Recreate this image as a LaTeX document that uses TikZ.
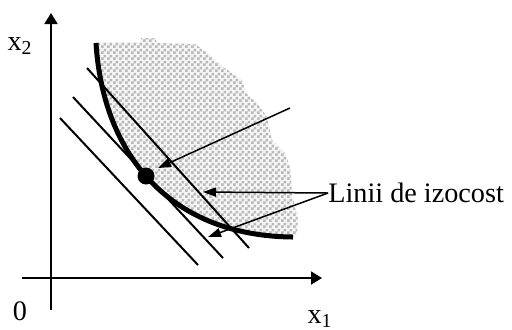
\documentclass[tikz,border=0pt]{standalone}
\usepackage{fontspec}
\setmainfont{Liberation Serif}
\usetikzlibrary{arrows.meta,patterns}

\pgfdeclarepatternformonly{finechecker}{\pgfpointorigin}{\pgfqpoint{2.8pt}{2.8pt}}{\pgfqpoint{2.8pt}{2.8pt}}{%
  \pgfpathrectangle{\pgfpointorigin}{\pgfqpoint{1.4pt}{1.4pt}}%
  \pgfpathrectangle{\pgfqpoint{1.4pt}{1.4pt}}{\pgfqpoint{1.4pt}{1.4pt}}%
  \pgfusepath{fill}}

\tikzset{
  axis/.style={line width=0.9pt, -{Triangle[length=5.5pt,width=6.5pt]}},
  isocost/.style={line width=1pt},
  pointer/.style={line width=0.75pt, -{Triangle[length=6.5pt,width=4.5pt]}},
  lbl/.style={font=\fontsize{14.1}{16}\selectfont, inner sep=0pt}
}

\begin{document}
\begin{tikzpicture}[x=0.5pt, y=-0.5pt]
  \useasboundingbox (0,0) rectangle (512,329);

  % shaded area above the curve
  \fill[gray!8]
    (96,42) -- (140,42) -- (141,38) -- (155,38) -- (157,43) -- (195,44)
    -- (210,55) -- (223,67) -- (242,80) -- (246,93) -- (257,103)
    -- (267,117) -- (272,140) -- (285,153) -- (290,167) -- (292,193)
    -- (295,207) -- (298,220) -- (297,233) -- (293,237)
    .. controls (170,236) and (103,155) .. (96,43) -- cycle;
  \fill[pattern=finechecker, pattern color=gray!55]
    (96,42) -- (140,42) -- (141,38) -- (155,38) -- (157,43) -- (195,44)
    -- (210,55) -- (223,67) -- (242,80) -- (246,93) -- (257,103)
    -- (267,117) -- (272,140) -- (285,153) -- (290,167) -- (292,193)
    -- (295,207) -- (298,220) -- (297,233) -- (293,237)
    .. controls (170,236) and (103,155) .. (96,43) -- cycle;

  % axes
  \coordinate (xs) at (22,278);
  \coordinate (xe) at (322,278);
  \coordinate (ys) at (51,310);
  \coordinate (ye) at (51,13);
  \draw[axis] (xs) -- (xe);
  \draw[axis] (ys) -- (ye);

  \node[lbl] (lx2) at (20,46) {x\textsubscript{2}};
  \node[lbl] (lx1) at (320,319) {x\textsubscript{1}};
  \node[lbl] (lzero) at (20,311) {0};

  % isocost lines
  \draw[isocost] (60,118) -- (198,265);
  \draw[isocost] (73,97) -- (223,258);
  \draw[isocost] (87,68) -- (249,248);

  % curve
  \draw[line width=2.5pt] (96,43) .. controls (103,155) and (170,236) .. (293,237);

  % optimum
  \node[circle, fill=black, inner sep=0pt, minimum size=8.5pt] (opt) at (146,176) {};

  % pointers
  \coordinate (sA) at (290,108);
  \coordinate (tA) at (158,168);
  \coordinate (tB) at (203,192);
  \coordinate (tC) at (208,237);
  \node[lbl, anchor=west] (cost) at (328,193) {Linii de izocost};
  \draw[pointer] (sA) -- (tA);
  \draw[pointer] (cost.west) -- (tB);
  \draw[pointer] (cost.west) -- (tC);
\end{tikzpicture}
\end{document}
